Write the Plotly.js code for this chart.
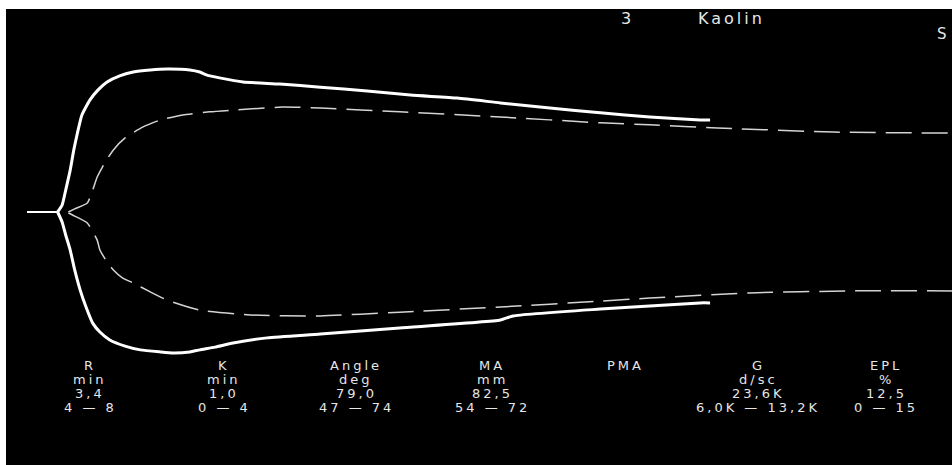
<!DOCTYPE html>
<html>
<head>
<meta charset="utf-8">
<script src="https://cdn.plot.ly/plotly-3.0.1.min.js"></script>
<style>
  html, body { margin: 0; padding: 0; background: #ffffff; }
  #chart { width: 952px; height: 465px; }
  .annotation-text { letter-spacing: 3px; }
</style>
</head>
<body>
<div id="chart"></div>
<script>
// ---- Data (time in minutes, amplitude in mm) ----
const baselineX = [0, 3.4];
const baselineY = [0, 0];

const sampleUpperX = [3.4, 3.9, 4.3, 4.8, 5.2, 5.6, 6.1, 7.0, 7.9, 8.9, 10.3, 11.8, 13.7, 15.6, 18.1, 19.2, 20.0, 21.4, 24.0, 28.1, 32.6, 37.8, 42.6, 47.8, 52.6, 58.1, 63.7, 69.2, 74.8, 75.9];
const sampleUpperY = [0, 2.0, 6.4, 12.2, 18.1, 23.0, 28.3, 32.7, 35.6, 37.9, 39.7, 40.8, 41.4, 41.7, 41.4, 40.8, 39.9, 39.1, 37.9, 37.3, 36.4, 35.3, 34.1, 33.2, 31.8, 30.3, 28.9, 27.7, 26.8, 26.8];

const sampleLowerX = [3.4, 3.9, 4.3, 4.8, 5.3, 5.9, 6.6, 7.3, 8.1, 9.2, 10.9, 12.6, 14.8, 16.2, 18.1, 19.2, 20.9, 22.9, 26.7, 32.6, 41.4, 52.6, 54.0, 63.7, 69.2, 74.8, 75.9];
const sampleLowerY = [0, -2.9, -6.7, -11.1, -16.9, -22.7, -28.0, -32.4, -35.0, -37.3, -39.1, -40.2, -40.8, -41.1, -40.8, -40.2, -39.4, -38.2, -36.7, -35.6, -33.8, -31.5, -30.3, -28.3, -27.4, -26.5, -26.5];

const refUpperX = [4.6, 5.3, 6.7, 7.3, 7.8, 8.7, 9.6, 10.9, 12.9, 14.8, 17.3, 20.3, 22.9, 28.4, 32.6, 41.4, 52.6, 63.7, 69.2, 76.7, 89.6, 102.8];
const refUpperY = [0, 0.9, 2.6, 6.4, 10.2, 14.6, 18.1, 21.6, 24.8, 26.8, 28.3, 29.2, 29.7, 30.6, 30.3, 29.2, 27.7, 26.0, 25.4, 24.5, 23.3, 23.0];

const refLowerX = [4.6, 5.3, 6.7, 7.8, 8.1, 8.9, 9.6, 10.6, 11.8, 13.7, 15.6, 19.2, 24.8, 32.6, 41.4, 52.6, 63.7, 69.2, 80.3, 91.4, 102.8];
const refLowerY = [-0.3, -1.2, -3.2, -8.2, -11.1, -14.6, -16.9, -19.2, -20.7, -23.3, -25.7, -28.6, -30.0, -30.3, -29.2, -27.7, -26.0, -25.1, -23.6, -23.0, -23.0];

const paramNames  = ["R", "K", "Angle", "MA", "PMA", "G", "EPL"];
const paramUnits  = ["min", "min", "deg", "mm", "", "d/sc", "%"];
const paramValues = ["3,4", "1,0", "79,0", "82,5", "", "23,6K", "12,5"];
const paramRanges = ["4 — 8", "0 — 4", "47 — 74", "54 — 72", "", "6,0K — 13,2K", "0 — 15"];

const channelLabel = "3";
const activatorLabel = "Kaolin";
const edgeLabel = "S";

// ---- Layout helpers (pixel -> paper) ----
const W = 952, H = 465, L = 6, T = 9;
const pxX = v => (v - L) / (W - L);
const pxY = v => (H - v) / (H - T);

const colCenters = [90, 224, 356, 492, 625, 758, 886];
const rowCenters = [365, 379, 393, 407];
const textColor = "#e6e6e6";
const fontFamily = "DejaVu Sans, Verdana, sans-serif";

const annotations = [];
const rows = [paramNames, paramUnits, paramValues, paramRanges];
rows.forEach((row, r) => {
  row.forEach((txt, c) => {
    if (!txt) return;
    annotations.push({
      text: txt, xref: "paper", yref: "paper",
      x: pxX(colCenters[c]), y: pxY(rowCenters[r]),
      xanchor: "center", yanchor: "middle", showarrow: false, borderpad: 0,
      font: { family: fontFamily, size: 13, color: textColor }
    });
  });
});
annotations.push({ text: channelLabel, xref: "paper", yref: "paper", x: pxX(627), y: pxY(18),
  xanchor: "center", yanchor: "middle", showarrow: false, font: { family: fontFamily, size: 16, color: textColor } });
annotations.push({ text: activatorLabel, xref: "paper", yref: "paper", x: pxX(731), y: pxY(18),
  xanchor: "center", yanchor: "middle", showarrow: false, font: { family: fontFamily, size: 16, color: textColor } });
annotations.push({ text: edgeLabel, xref: "paper", yref: "paper", x: pxX(936), y: pxY(34),
  xanchor: "left", yanchor: "middle", showarrow: false, borderpad: 0, font: { family: fontFamily, size: 15, color: textColor } });

const dashStyle = { color: "#d4d4d4", width: 1.5, dash: "26px,10px", shape: "spline", smoothing: 0.5 };
const solidStyle = { color: "#ffffff", width: 3, shape: "spline", smoothing: 0.5 };

const traces = [
  { x: refUpperX, y: refUpperY, mode: "lines", line: dashStyle, hoverinfo: "skip" },
  { x: refLowerX, y: refLowerY, mode: "lines", line: dashStyle, hoverinfo: "skip" },
  { x: baselineX, y: baselineY, mode: "lines", line: { color: "#ffffff", width: 2 }, hoverinfo: "skip" },
  { x: sampleUpperX, y: sampleUpperY, mode: "lines", line: solidStyle, hoverinfo: "skip" },
  { x: sampleLowerX, y: sampleLowerY, mode: "lines", line: solidStyle, hoverinfo: "skip" }
];

const layout = {
  width: W, height: H,
  margin: { l: L, r: 0, t: T, b: 0, pad: 0 },
  paper_bgcolor: "#ffffff",
  plot_bgcolor: "#000000",
  showlegend: false,
  xaxis: { range: [-2.333, 102.78], visible: false, fixedrange: true },
  yaxis: { range: [-73.76, 59.18], visible: false, fixedrange: true },
  annotations: annotations
};

Plotly.newPlot("chart", traces, layout, { staticPlot: true, displayModeBar: false });
</script>
</body>
</html>
